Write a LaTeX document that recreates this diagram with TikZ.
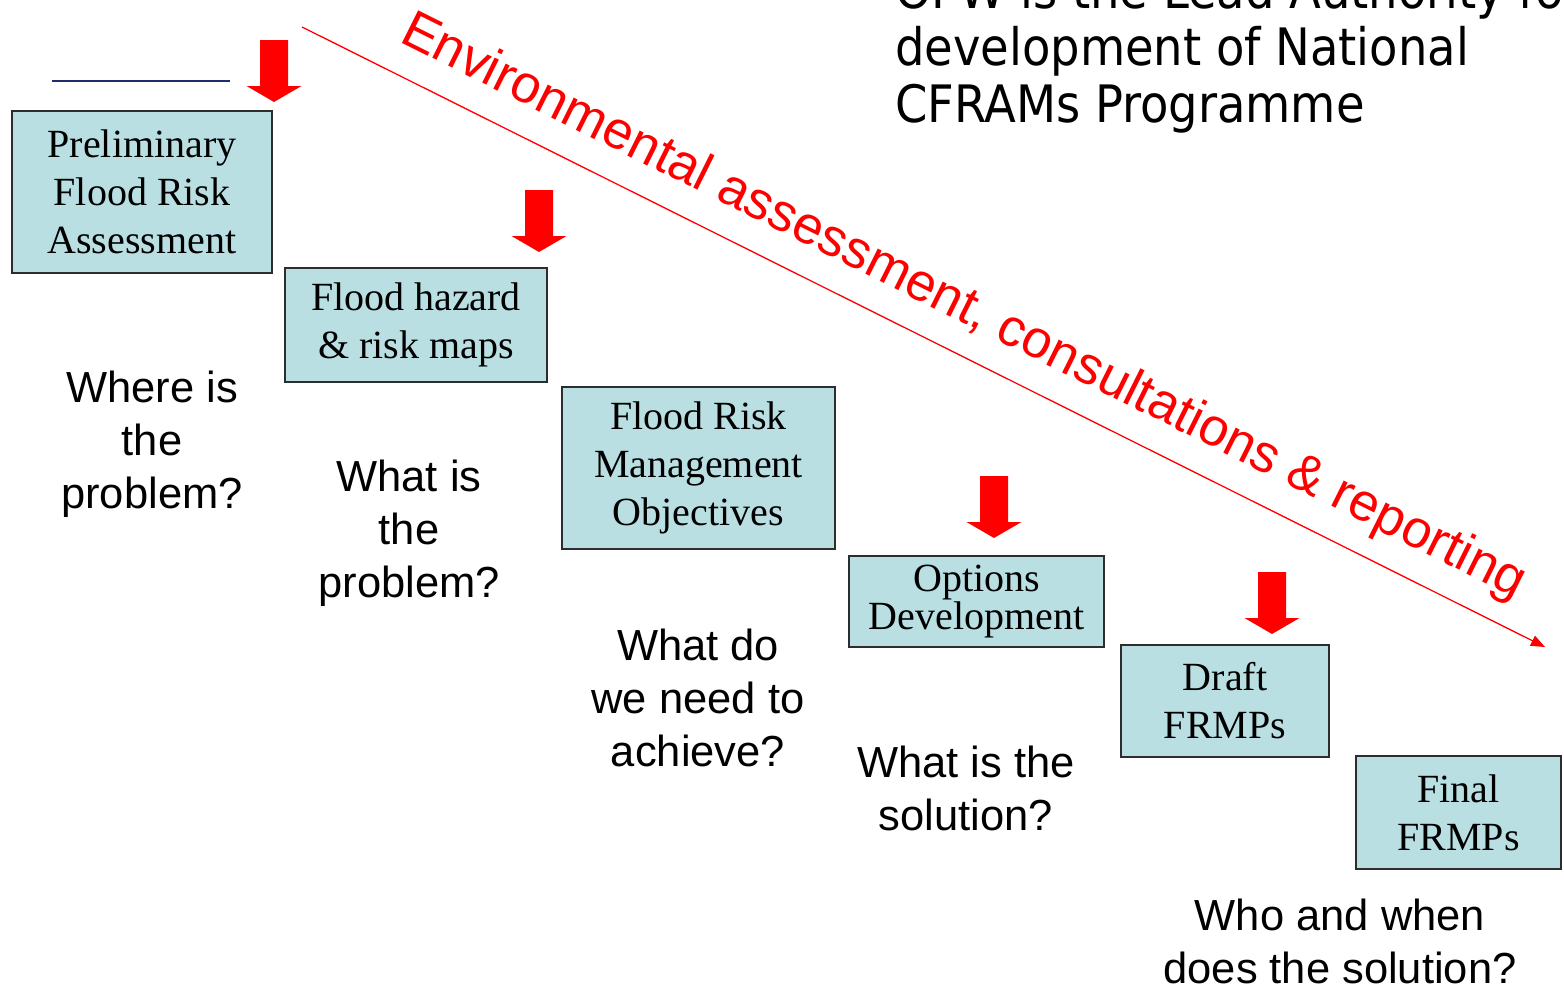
\documentclass[tikz,border=0pt]{standalone}
\usepackage{fontspec}
\setmainfont{Liberation Serif}
\newfontfamily\qfont{Liberation Sans}
\newfontfamily\topfont{DejaVu Sans Condensed}
\usetikzlibrary{arrows.meta}
\definecolor{boxfill}{RGB}{185,223,226}
\definecolor{boxborder}{RGB}{45,45,45}
\definecolor{navyline}{RGB}{31,45,107}
\definecolor{purered}{RGB}{255,0,0}
\tikzset{
  stage/.style={draw=boxborder, line width=1.6pt, fill=boxfill, align=center,
    inner sep=0pt, font=\fontsize{40}{48}\selectfont},
  question/.style={align=center, inner sep=0pt, font=\qfont\fontsize{43.5}{53}\selectfont},
  blockarrow/.pic={\fill[purered] (-14,-62) -- (14,-62) -- (14,-16) -- (27.5,-16)
     -- (0,0) -- (-27.5,-16) -- (-14,-16) -- cycle;}
}
\begin{document}
\begin{tikzpicture}[x=1pt,y=-1pt]
\useasboundingbox (0,0) rectangle (1564,985);
\clip (0,0) rectangle (1564,985);
\fill[white] (0,0) rectangle (1564,985);

% title (partly cut off at the top)
\node[anchor=base west, align=left, inner sep=0pt,
  font=\topfont\fontsize{51.6}{57}\selectfont] (title) at (895,122)
  {OPW is the Lead Authority for\\development of National\\CFRAMs Programme};

% short navy line
\coordinate (navyA) at (52,81);
\coordinate (navyB) at (230,81);
\draw[navyline, line width=2pt] (navyA) -- (navyB);

% stage boxes
\node[stage, minimum width=260, minimum height=162] (pfra) at (142,192)
  {Preliminary\\Flood Risk\\Assessment};
\node[stage, minimum width=262, minimum height=114] (maps) at (416,325)
  {Flood hazard\\\& risk maps};
\node[stage, minimum width=273, minimum height=162] (obj) at (698.5,468)
  {Flood Risk\\Management\\Objectives};
\node[stage, minimum width=255, minimum height=91,
  font=\fontsize{40}{36}\selectfont] (opt) at (976.5,601.5)
  {Options\\Development};
\node[stage, minimum width=208, minimum height=112] (draft) at (1225,701)
  {Draft\\FRMPs};
\node[stage, minimum width=205, minimum height=113] (final) at (1458.5,812.5)
  {Final\\FRMPs};

% block arrows
\pic at (274,102) {blockarrow};
\pic at (539,252) {blockarrow};
\pic at (994,538) {blockarrow};
\pic at (1272,634) {blockarrow};

% environmental assessment line
\coordinate (envstart) at (302,27);
\coordinate (envend) at (1545,647);
\draw[purered, line width=1.3pt, -{Triangle[length=14pt,width=11pt]}] (envstart) -- (envend);
\node[anchor=base west, rotate=-26.5, inner sep=0pt, text=purered,
  font=\qfont\fontsize{53}{60}\selectfont] (env) at (398,41)
  {Environmental assessment, consultations \& reporting};

% questions
\node[question] (q1) at (152,444) {Where is\\the\\problem?};
\node[question] (q2) at (409,533) {What is\\the\\problem?};
\node[question] (q3) at (698,698) {What do\\we need to\\achieve?};
\node[question] (q4) at (966,788) {What is the\\solution?};
\node[question] (q5) at (1340,941) {Who and when\\does the solution?};
\end{tikzpicture}
\end{document}
